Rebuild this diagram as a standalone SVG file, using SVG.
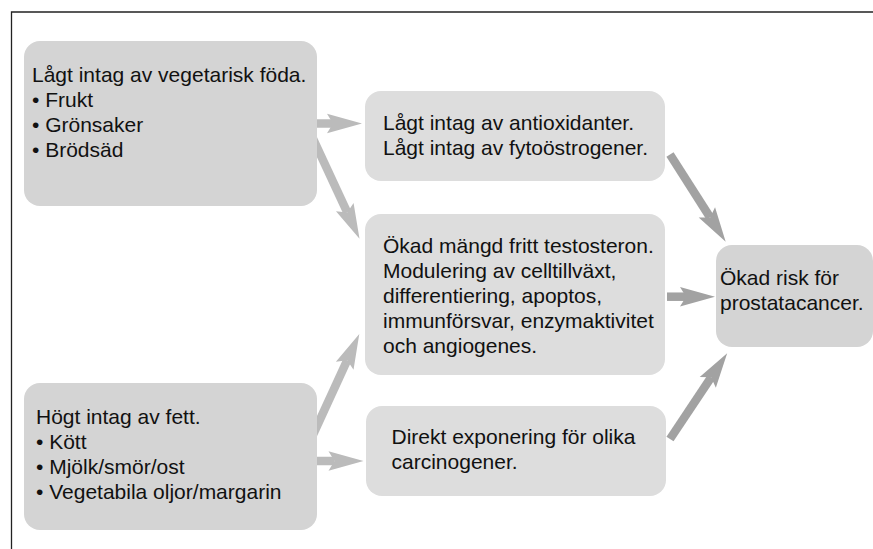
<svg xmlns="http://www.w3.org/2000/svg" width="873" height="549" viewBox="0 0 873 549">
<style>
  .t { font-family: "Liberation Sans", Arial, sans-serif; font-size: 21px; fill: #111; }
  .dk { fill: #d4d4d4; }
  .lt { fill: #dddddd; }
  .al { stroke: #bbbbbb; stroke-width: 8.5; fill: none; }
  .ad { stroke: #a2a2a2; stroke-width: 8.5; fill: none; }
</style>
<defs>
  <marker id="hl" markerUnits="userSpaceOnUse" markerWidth="40" markerHeight="24" viewBox="0 -12 40 24" refX="6" refY="0" orient="auto" overflow="visible">
    <path d="M0,-9.7 L35,0 L0,9.7 L6,0 Z" fill="#bbbbbb"/>
  </marker>
  <marker id="hd" markerUnits="userSpaceOnUse" markerWidth="40" markerHeight="24" viewBox="0 -12 40 24" refX="6" refY="0" orient="auto" overflow="visible">
    <path d="M0,-9.7 L35,0 L0,9.7 L6,0 Z" fill="#a2a2a2"/>
  </marker>
</defs>
<rect width="873" height="549" fill="#ffffff"/>
<path d="M11.5,549 L11.5,12 L873,12" fill="none" stroke="#222" stroke-width="1.3"/>
<g id="connectors">
  <line class="al" x1="310" y1="123.5" x2="333" y2="123.5" marker-end="url(#hl)"/>
  <line class="al" x1="312" y1="136.5" x2="347.3" y2="212.5" marker-end="url(#hl)"/>
  <line class="al" x1="312" y1="437" x2="347.2" y2="360.3" marker-end="url(#hl)"/>
  <line class="al" x1="310" y1="461" x2="334.5" y2="461" marker-end="url(#hl)"/>
  <line class="ad" x1="670" y1="154.5" x2="710.1" y2="217.4" marker-end="url(#hd)"/>
  <line class="ad" x1="667" y1="296.7" x2="686" y2="296.7" marker-end="url(#hd)"/>
  <line class="ad" x1="670" y1="439" x2="711.1" y2="377.3" marker-end="url(#hd)"/>
</g>
<g id="node-vegetarisk">
  <rect class="dk" x="24" y="41" width="293" height="165" rx="16"/>
  <text class="t" x="32" y="82">Lågt intag av vegetarisk föda.</text>
  <text class="t" x="32" y="107">• Frukt</text>
  <text class="t" x="32" y="132">• Grönsaker</text>
  <text class="t" x="32" y="157">• Brödsäd</text>
</g>
<g id="node-fett">
  <rect class="dk" x="24" y="383" width="293" height="147" rx="16"/>
  <text class="t" x="36" y="424">Högt intag av fett.</text>
  <text class="t" x="36" y="449">• Kött</text>
  <text class="t" x="36" y="474">• Mjölk/smör/ost</text>
  <text class="t" x="36" y="499">• Vegetabila oljor/margarin</text>
</g>
<g id="node-antioxidanter">
  <rect class="lt" x="365" y="91" width="300" height="90" rx="16"/>
  <text class="t" x="383" y="130">Lågt intag av antioxidanter.</text>
  <text class="t" x="383" y="155">Lågt intag av fytoöstrogener.</text>
</g>
<g id="node-testosteron">
  <rect class="lt" x="365" y="214" width="300" height="161" rx="16"/>
  <text class="t" x="383" y="253">Ökad mängd fritt testosteron.</text>
  <text class="t" x="383" y="278">Modulering av celltillväxt,</text>
  <text class="t" x="383" y="303">differentiering, apoptos,</text>
  <text class="t" x="383" y="328">immunförsvar, enzymaktivitet</text>
  <text class="t" x="383" y="353">och angiogenes.</text>
</g>
<g id="node-carcinogener">
  <rect class="lt" x="366" y="406" width="300" height="90" rx="16"/>
  <text class="t" x="391.5" y="444">Direkt exponering för olika</text>
  <text class="t" x="391.5" y="469">carcinogener.</text>
</g>
<g id="node-risk">
  <rect class="dk" x="716" y="245" width="157" height="102" rx="16"/>
  <text class="t" x="720" y="285">Ökad risk för</text>
  <text class="t" x="720" y="310">prostatacancer.</text>
</g>
</svg>
